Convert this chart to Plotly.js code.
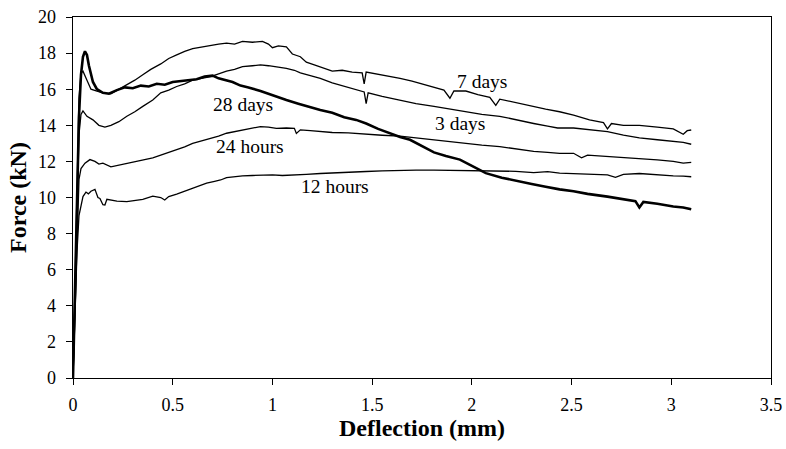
<!DOCTYPE html>
<html>
<head>
<meta charset="utf-8">
<script src="https://cdn.plot.ly/plotly-3.0.1.min.js"></script>
<style>html,body{margin:0;padding:0;background:#fff;}#chart{width:786px;height:449px;}</style>
</head>
<body>
<div id="chart"></div>
<script>
// 7 days
var x7 = [0,0.01,0.02,0.03,0.04,0.05,0.07,0.09,0.12,0.15,0.19,0.23,0.27,0.31,0.35,0.39,0.44,0.48,0.52,0.56,0.60,0.65,0.69,0.73,0.77,0.81,0.85,0.90,0.95,0.98,1.00,1.03,1.07,1.10,1.14,1.17,1.21,1.25,1.30,1.35,1.40,1.45,1.46,1.47,1.52,1.58,1.64,1.70,1.76,1.81,1.86,1.89,1.91,1.97,2.03,2.09,2.12,2.14,2.20,2.26,2.31,2.37,2.44,2.51,2.59,2.66,2.68,2.70,2.76,2.84,2.93,3.01,3.06,3.08,3.10];
var f7 = [0,5,11,15.5,16.9,17.0,16.5,16.0,15.9,15.8,15.75,16.0,16.25,16.5,16.8,17.1,17.4,17.7,17.9,18.1,18.25,18.35,18.45,18.5,18.55,18.5,18.65,18.6,18.65,18.5,18.3,18.4,18.35,17.95,17.8,17.5,17.35,17.2,17.0,17.05,16.95,16.9,16.3,16.95,16.85,16.75,16.6,16.45,16.25,16.1,15.95,15.5,15.9,15.9,15.7,15.55,15.1,15.45,15.3,15.15,15.05,14.9,14.75,14.57,14.3,14.15,13.8,14.1,14.0,14.0,13.9,13.8,13.5,13.7,13.74];
// 3 days
var x3 = [0,0.01,0.02,0.03,0.04,0.05,0.07,0.10,0.13,0.16,0.19,0.23,0.27,0.31,0.35,0.40,0.44,0.48,0.52,0.56,0.60,0.65,0.69,0.73,0.77,0.81,0.85,0.90,0.94,0.98,1.02,1.07,1.11,1.14,1.19,1.24,1.30,1.36,1.42,1.46,1.47,1.48,1.55,1.64,1.72,1.81,1.89,1.97,2.05,2.14,2.22,2.31,2.38,2.43,2.51,2.59,2.68,2.76,2.84,2.93,3.01,3.06,3.10];
var f3 = [0,4.5,9.5,13.5,14.6,14.8,14.5,14.3,14.0,13.9,14.0,14.2,14.5,14.75,15.05,15.4,15.8,15.95,16.15,16.3,16.5,16.6,16.7,16.85,17.0,17.1,17.25,17.3,17.35,17.3,17.25,17.15,17.05,16.9,16.75,16.6,16.35,16.15,15.95,15.85,15.2,15.8,15.6,15.4,15.2,15.05,14.9,14.75,14.6,14.5,14.3,14.1,13.95,13.85,13.85,13.75,13.65,13.45,13.3,13.2,13.1,13.05,12.95];
// 28 days
var x28 = [0,0.01,0.02,0.03,0.04,0.05,0.06,0.07,0.08,0.09,0.10,0.12,0.15,0.18,0.22,0.26,0.30,0.34,0.38,0.42,0.46,0.50,0.54,0.58,0.62,0.66,0.70,0.73,0.76,0.80,0.84,0.88,0.94,1.00,1.07,1.13,1.19,1.24,1.30,1.36,1.42,1.47,1.53,1.59,1.64,1.69,1.75,1.81,1.87,1.94,2.01,2.07,2.15,2.23,2.30,2.37,2.44,2.51,2.58,2.68,2.76,2.82,2.84,2.86,2.93,3.01,3.06,3.10];
var f28 = [0,5,10.5,14.5,16.8,17.8,18.1,17.9,17.3,16.8,16.4,16.0,15.8,15.75,15.95,16.1,16.05,16.2,16.15,16.3,16.25,16.4,16.45,16.5,16.55,16.7,16.75,16.6,16.5,16.4,16.2,16.1,15.9,15.65,15.4,15.2,15.0,14.85,14.7,14.45,14.3,14.1,13.8,13.55,13.35,13.2,12.85,12.5,12.3,12.1,11.7,11.35,11.1,10.9,10.75,10.6,10.45,10.35,10.2,10.05,9.9,9.8,9.45,9.75,9.65,9.5,9.45,9.35];
// 24 hours
var x24 = [0,0.01,0.02,0.03,0.04,0.06,0.085,0.11,0.13,0.15,0.19,0.23,0.27,0.31,0.35,0.40,0.44,0.48,0.52,0.56,0.60,0.65,0.69,0.73,0.77,0.81,0.85,0.90,0.94,0.98,1.02,1.07,1.11,1.12,1.14,1.19,1.24,1.30,1.38,1.47,1.55,1.64,1.72,1.81,1.89,1.97,2.05,2.14,2.22,2.31,2.38,2.44,2.51,2.55,2.58,2.68,2.76,2.84,2.93,3.01,3.06,3.10];
var f24 = [0,4,8.5,11.0,11.6,11.9,12.1,12.0,11.85,11.9,11.7,11.8,11.9,12.0,12.07,12.2,12.35,12.5,12.63,12.8,13.0,13.15,13.28,13.4,13.56,13.65,13.74,13.85,13.93,13.9,13.83,13.85,13.83,13.55,13.75,13.7,13.65,13.6,13.58,13.5,13.45,13.4,13.3,13.2,13.1,13.0,12.9,12.82,12.7,12.55,12.5,12.45,12.45,12.2,12.35,12.27,12.22,12.18,12.08,12.0,11.9,11.95];
// 12 hours
var x12 = [0,0.01,0.02,0.03,0.04,0.05,0.065,0.077,0.09,0.11,0.125,0.135,0.15,0.16,0.17,0.185,0.22,0.27,0.31,0.35,0.40,0.44,0.46,0.48,0.52,0.56,0.60,0.64,0.67,0.71,0.74,0.77,0.81,0.85,0.90,0.94,1.00,1.05,1.11,1.17,1.24,1.30,1.38,1.47,1.55,1.64,1.72,1.81,1.89,1.97,2.05,2.14,2.22,2.31,2.38,2.44,2.51,2.60,2.68,2.72,2.76,2.84,2.93,3.01,3.06,3.10];
var f12 = [0,3.5,7,9.0,9.6,10.05,10.3,10.2,10.35,10.45,10.0,9.95,9.6,9.58,9.9,9.86,9.8,9.77,9.85,9.9,10.08,10.0,9.86,10.05,10.19,10.35,10.5,10.65,10.8,10.9,10.97,11.1,11.15,11.2,11.22,11.24,11.25,11.22,11.24,11.28,11.33,11.35,11.4,11.44,11.48,11.52,11.52,11.52,11.5,11.52,11.5,11.44,11.45,11.38,11.43,11.35,11.33,11.3,11.25,11.12,11.28,11.33,11.25,11.2,11.18,11.15];

var labelText = ["7 days","3 days","28 days","24 hours","12 hours"];
var labelX = [2.05,1.94,0.854,0.888,1.314];
var labelY = [16.4,14.1,15.18,12.81,10.6];

var xTicks = [0,0.5,1,1.5,2,2.5,3,3.5];
var xTickText = ["0","0.5","1","1.5","2","2.5","3","3.5"];
var yTicks = [0,2,4,6,8,10,12,14,16,18,20];

var FONT = "Liberation Serif, Times New Roman, serif";
function tr(x,y,w){return {x:x,y:y,type:"scatter",mode:"lines",line:{color:"#000",width:w},hoverinfo:"skip",showlegend:false};}
var data = [tr(x12,f12,1.3),tr(x24,f24,1.3),tr(x3,f3,1.3),tr(x7,f7,1.3),tr(x28,f28,2.6)];

var annotations = labelText.map(function(t,i){return {x:labelX[i],y:labelY[i],xref:"x",yref:"y",text:t,showarrow:false,font:{family:FONT,size:19.5,color:"#000"}};});

var layout = {
  width:786,height:449,
  margin:{l:73,r:15,t:17,b:71},
  paper_bgcolor:"#fff",plot_bgcolor:"#fff",
  font:{family:FONT,color:"#000",size:18},
  xaxis:{range:[0,3.5],tickvals:xTicks,ticktext:xTickText,ticks:"outside",ticklen:6,tickwidth:1,tickcolor:"#000",
    showline:true,linecolor:"#000",linewidth:1.3,mirror:true,showgrid:false,zeroline:false,
    tickfont:{family:FONT,size:18},ticklabelstandoff:4,
    title:{text:"<b>Deflection (mm)</b>",font:{family:FONT,size:24},standoff:0}},
  yaxis:{range:[0,20],tickvals:yTicks,ticks:"outside",ticklen:6,tickwidth:1,tickcolor:"#000",
    showline:true,linecolor:"#000",linewidth:1.3,mirror:true,showgrid:false,zeroline:false,
    tickfont:{family:FONT,size:18},ticklabelstandoff:6,
    title:{text:"<b>Force (kN)</b>",font:{family:FONT,size:24},standoff:4}},
  annotations:annotations
};
Plotly.newPlot("chart",data,layout,{displayModeBar:false,staticPlot:true});
</script>
</body>
</html>
